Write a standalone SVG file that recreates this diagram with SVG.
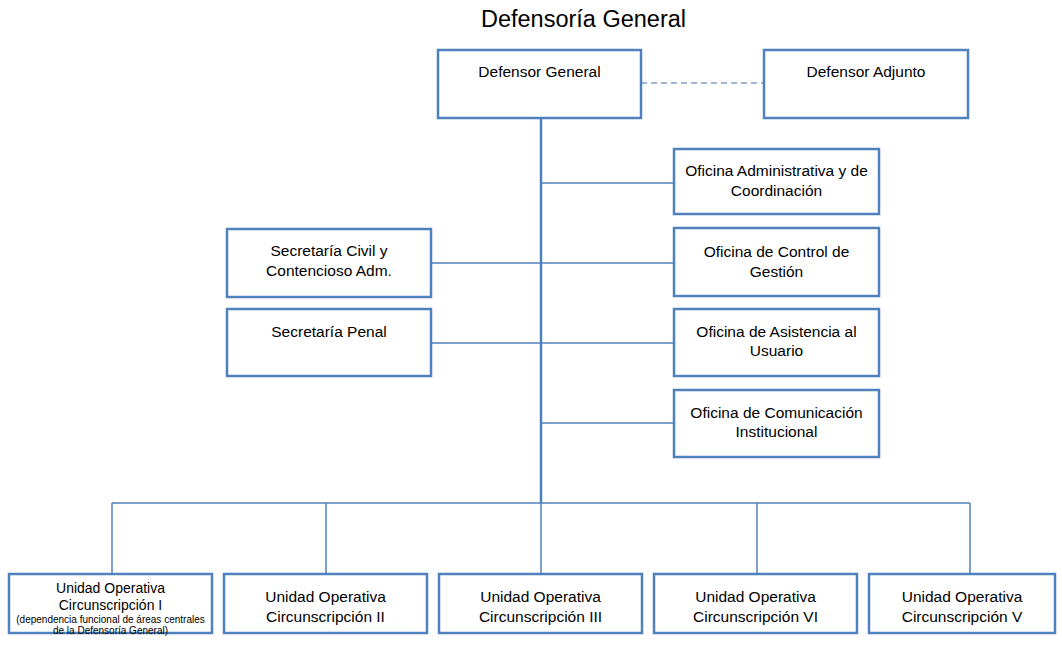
<svg xmlns="http://www.w3.org/2000/svg" width="1062" height="645" viewBox="0 0 1062 645">
<style>
.box{fill:#fff;stroke:#4F81BD;stroke-width:2.5}
.t{font-family:"Liberation Sans",Arial,sans-serif;font-size:15.5px;fill:#000;text-anchor:middle}
.s{font-size:14px}
.xs{font-size:10px}
.ln{stroke:#4F81BD;stroke-width:1.5;fill:none}
.trunk{stroke:#4F81BD;stroke-width:2.5;fill:none}
.dash{stroke:#7FA0CF;stroke-width:1.5;stroke-dasharray:6,4;fill:none}
</style>
<rect width="1062" height="645" fill="#fff"/>
<text x="583.5" y="27" font-family="&quot;Liberation Sans&quot;,Arial,sans-serif" font-size="23.5" text-anchor="middle">Defensoría General</text>
<g id="connectors">
<line class="dash" x1="641" y1="83" x2="764" y2="83"/>
<line class="trunk" x1="541" y1="118" x2="541" y2="503"/>
<line class="ln" x1="541" y1="183" x2="674" y2="183"/>
<line class="ln" x1="431" y1="263" x2="674" y2="263"/>
<line class="ln" x1="431" y1="343" x2="674" y2="343"/>
<line class="ln" x1="541" y1="423" x2="674" y2="423"/>
<line class="ln" x1="112" y1="503" x2="970" y2="503"/>
<line class="ln" x1="112" y1="503" x2="112" y2="574"/>
<line class="ln" x1="326" y1="503" x2="326" y2="574"/>
<line class="ln" x1="541" y1="503" x2="541" y2="574"/>
<line class="ln" x1="757" y1="503" x2="757" y2="574"/>
<line class="ln" x1="970" y1="503" x2="970" y2="574"/>
</g>
<g id="defensor-general"><rect class="box" x="438" y="50" width="203" height="68"/><text class="t" x="539.5" y="76.5">Defensor General</text></g>
<g id="defensor-adjunto"><rect class="box" x="764" y="50" width="204" height="68"/><text class="t" x="866" y="76.5">Defensor Adjunto</text></g>
<g id="oficina-administrativa"><rect class="box" x="674" y="149" width="205" height="65"/><text class="t" x="776.5" y="175.5">Oficina Administrativa y de</text><text class="t" x="776.5" y="195.5">Coordinación</text></g>
<g id="oficina-control"><rect class="box" x="674" y="228" width="205" height="68"/><text class="t" x="776.5" y="256.5">Oficina de Control de</text><text class="t" x="776.5" y="276.5">Gestión</text></g>
<g id="oficina-asistencia"><rect class="box" x="674" y="309" width="205" height="67"/><text class="t" x="776.5" y="337">Oficina de Asistencia al</text><text class="t" x="776.5" y="356">Usuario</text></g>
<g id="oficina-comunicacion"><rect class="box" x="674" y="390" width="205" height="67"/><text class="t" x="776.5" y="418">Oficina de Comunicación</text><text class="t" x="776.5" y="437">Institucional</text></g>
<g id="secretaria-civil"><rect class="box" x="227" y="229" width="204" height="68"/><text class="t" x="329" y="256">Secretaría Civil y</text><text class="t" x="329" y="276">Contencioso Adm.</text></g>
<g id="secretaria-penal"><rect class="box" x="227" y="309" width="204" height="67"/><text class="t" x="329" y="336.5">Secretaría Penal</text></g>
<g id="uo-1"><rect class="box" x="9" y="574" width="203" height="59"/><text class="t s" x="110.5" y="593">Unidad Operativa</text><text class="t s" x="110.5" y="610">Circunscripción I</text><text class="t xs" x="110.5" y="622.5">(dependencia funcional de áreas centrales</text><text class="t xs" x="110.5" y="633.5">de la Defensoría General)</text></g>
<g id="uo-2"><rect class="box" x="224" y="574" width="203" height="59"/><text class="t" x="325.5" y="601.5">Unidad Operativa</text><text class="t" x="325.5" y="621.5">Circunscripción II</text></g>
<g id="uo-3"><rect class="box" x="439" y="574" width="203" height="59"/><text class="t" x="540.5" y="601.5">Unidad Operativa</text><text class="t" x="540.5" y="621.5">Circunscripción III</text></g>
<g id="uo-6"><rect class="box" x="654" y="574" width="203" height="59"/><text class="t" x="755.5" y="601.5">Unidad Operativa</text><text class="t" x="755.5" y="621.5">Circunscripción VI</text></g>
<g id="uo-5"><rect class="box" x="869" y="574" width="186" height="59"/><text class="t" x="962" y="601.5">Unidad Operativa</text><text class="t" x="962" y="621.5">Circunscripción V</text></g>
</svg>
